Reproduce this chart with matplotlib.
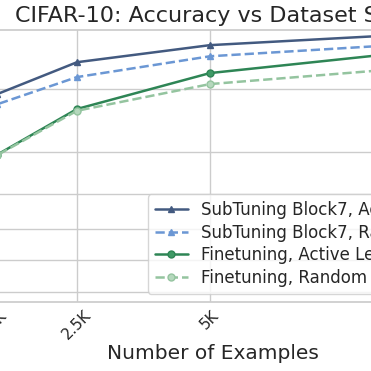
import matplotlib
matplotlib.use("Agg")
import matplotlib.pyplot as plt
import seaborn as sns
from matplotlib.ticker import NullLocator

# data (accuracy on a logit axis)
examples = [1000, 2500, 5000, 10000]
tick_labels = ["1K", "2.5K", "5K", "10K"]
subtuning_active = [0.894, 0.927, 0.9405, 0.950]
subtuning_random = [0.881, 0.913, 0.932, 0.944]
finetune_active = [0.795, 0.8745, 0.917, 0.9406]
finetune_random = [0.794, 0.872, 0.9056, 0.9266]

sns.set_theme(style="whitegrid")
plt.rcParams["font.family"] = ["DejaVu Sans"]

fig = plt.figure(figsize=(3.71, 3.71), dpi=100)
# the reference is a crop, so the axes run past the left and right edges
ax = fig.add_axes([-0.2084, 0.186, 1.5631, 0.7332])

ax.plot(examples, subtuning_active, "-^", color="#435a80", lw=1.8, ms=5,
        label="SubTuning Block7, Active Learning")
ax.plot(examples, subtuning_random, "--^", color="#6b97d4", lw=1.8, ms=5,
        label="SubTuning Block7, Random")
ax.plot(examples, finetune_active, "-o", color="#2e8555", lw=1.8, ms=5,
        mfc="#3f9a66", label="Finetuning, Active Learning")
ax.plot(examples, finetune_random, "--o", color="#94c49f", lw=1.8, ms=5,
        mfc="#b5d8bd", label="Finetuning, Random")

ax.set_yscale("logit")
ax.set_yticks([0.4, 0.5, 0.6, 0.7, 0.8, 0.9])
ax.yaxis.set_minor_locator(NullLocator())
ax.set_ylim(0.3696, 0.9505)
ax.set_xlim(-400, 10500)
ax.set_xticks(examples)
ax.set_xticklabels(tick_labels, rotation=45, fontsize=11)
ax.tick_params(axis="x", length=0, pad=4)

ax.set_xlabel("Number of Examples", fontsize=14.5, labelpad=1)
ax.set_ylabel("Accuracy", fontsize=14)
ax.set_title("CIFAR-10: Accuracy vs Dataset Size", fontsize=16, pad=6)
ax.legend(loc="lower right", fontsize=12, labelspacing=0.28)

fig.savefig("out.png", dpi=100)
